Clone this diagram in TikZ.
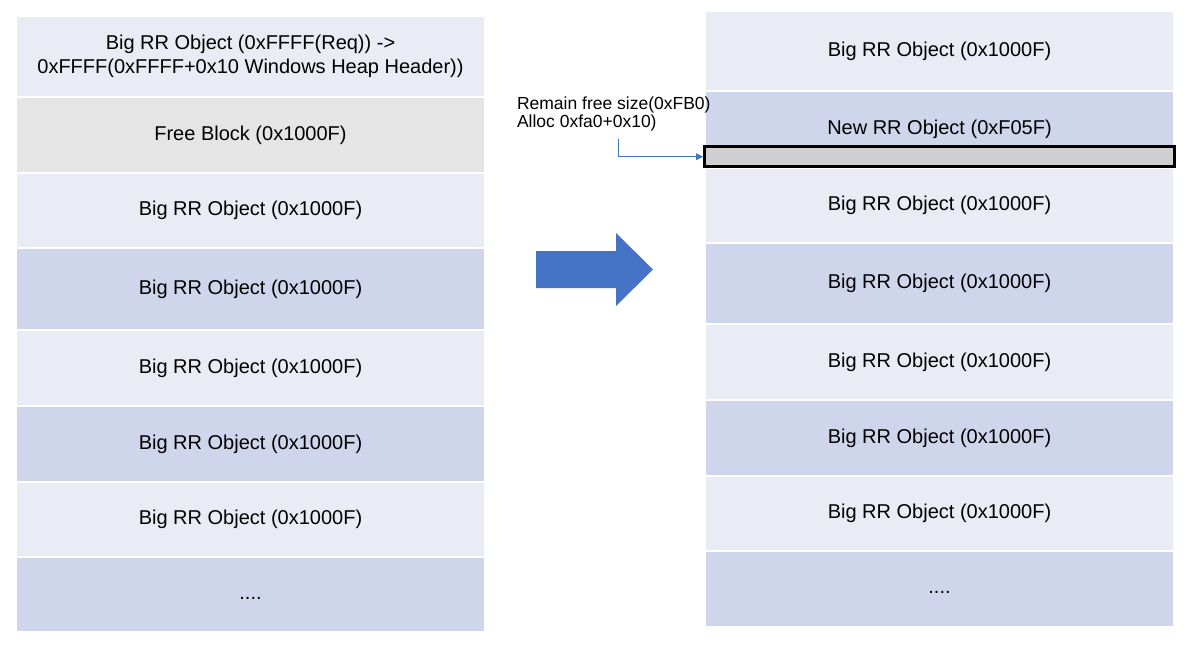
\documentclass[tikz,border=0pt]{standalone}
\usepackage{fontspec}
\setmainfont{Liberation Sans}
\usetikzlibrary{arrows.meta}
\definecolor{block light color}{HTML}{E9EBF5}
\definecolor{block dark color}{HTML}{CFD5EA}
\definecolor{free block color}{HTML}{E5E5E5}
\definecolor{remain block color}{HTML}{D0CECE}
\definecolor{shift arrow color}{HTML}{4472C4}
\tikzset{
    x={1pt},
    y={-1pt},
    heap block/.style 2 args={
        rectangle, fill={#1},
        draw=white, line width={2pt},
        inner sep=0pt, outer sep=0pt,
        minimum width={469},
        minimum height={#2},
        align=center,
        font={\fontsize{20}{24}\selectfont},
    },
    remain block/.style={
        rectangle, fill=remain block color,
        draw=black, line width={3pt},
        inner sep=0pt,
        minimum width={470},
        minimum height={20.5},
    },
    note label/.style={
        anchor=north west,
        align=left,
        inner sep=0pt, outer sep=0pt,
        font={\fontsize{17.5}{18}\selectfont},
    },
    note arrow/.style={
        draw=shift arrow color,
        line width={0.75pt},
        -{Triangle[length=7pt,width=7pt]},
    },
    shift arrow/.style={
        fill=shift arrow color,
    },
}

\begin{document}
\begin{tikzpicture}
\useasboundingbox (0,0) rectangle (1200,658);
% old heap
\node[heap block={block light color}{81}] (old block 1) at (250.5,56.5) {Big RR Object (0xFFFF(Req)) ->\\0xFFFF(0xFFFF+0x10 Windows Heap Header))};
\node[heap block={free block color}{76}] (old block 2) at (250.5,135) {Free Block (0x1000F)};
\node[heap block={block light color}{75}] (old block 3) at (250.5,210.5) {Big RR Object (0x1000F)};
\node[heap block={block dark color}{82}] (old block 4) at (250.5,289) {Big RR Object (0x1000F)};
\node[heap block={block light color}{76}] (old block 5) at (250.5,368) {Big RR Object (0x1000F)};
\node[heap block={block dark color}{76}] (old block 6) at (250.5,444) {Big RR Object (0x1000F)};
\node[heap block={block light color}{75}] (old block 7) at (250.5,519.5) {Big RR Object (0x1000F)};
\node[heap block={block dark color}{75}] (old block 8) at (250.5,594.5) {\strut....};
% shift
\path[shift arrow] (536,251) -- (616,251) -- (616,233) -- (653,269.5) -- (616,306) -- (616,288) -- (536,288) -- cycle;
% new heap
\node[heap block={block light color}{80}] (new block 1) at (939.5,51) {Big RR Object (0x1000F)};
\node[heap block={block dark color}{77}] (new block 2) at (939.5,129.5) {New RR Object (0xF05F)};
\node[heap block={block light color}{75}] (new block 3) at (939.5,205.5) {Big RR Object (0x1000F)};
\node[heap block={block dark color}{81}] (new block 4) at (939.5,283.5) {Big RR Object (0x1000F)};
\node[heap block={block light color}{76}] (new block 5) at (939.5,362) {Big RR Object (0x1000F)};
\node[heap block={block dark color}{76}] (new block 6) at (939.5,438) {Big RR Object (0x1000F)};
\node[heap block={block light color}{75}] (new block 7) at (939.5,513.5) {Big RR Object (0x1000F)};
\node[heap block={block dark color}{76}] (new block 8) at (939.5,589) {\strut....};
\node[remain block] (remain) at (939.5,156.75) {};
% remain note
\node[note label] (note) at (517,97) {Remain free size(0xFB0)\\Alloc 0xfa0+0x10)};
\coordinate (note start) at (618,139);
\draw[note arrow] (note start) |- (remain.west);
\end{tikzpicture}
\end{document}
